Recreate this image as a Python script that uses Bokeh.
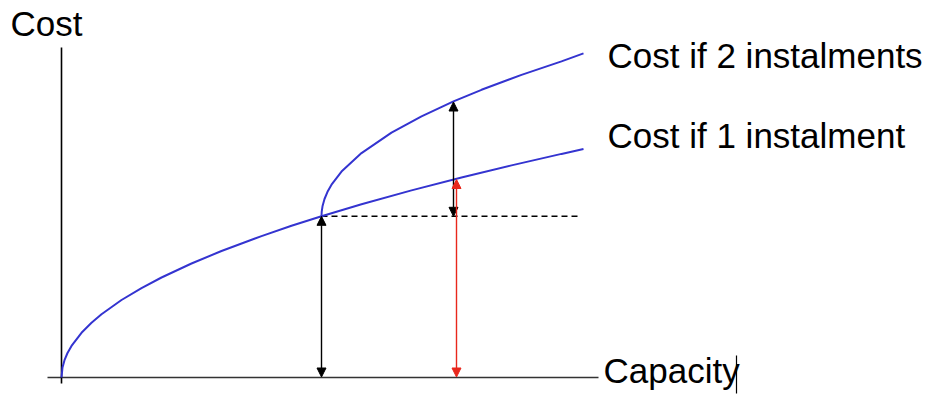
from bokeh.plotting import figure
from bokeh.models import Range1d, Arrow, NormalHead
from bokeh.core.properties import value
from bokeh.embed import file_html
from bokeh.resources import INLINE

# Data (arbitrary units)
capacity_1 = [0, 0.1, 0.3, 0.6, 1, 2, 3, 4, 6, 8, 10, 13, 16, 20, 23, 26, 30, 35, 40, 45, 50, 52.2]
cost_1 = [0, 1.0, 1.73, 2.45, 3.16, 4.47, 5.48, 6.32, 7.75, 8.94, 10.0, 11.40, 12.65, 14.14,
          15.17, 16.12, 17.32, 18.71, 20.0, 21.21, 22.36, 22.85]
capacity_2 = [26, 26.02, 26.1, 26.3, 26.6, 27, 28, 30, 33, 36, 39.2, 42, 46, 50, 52.2]
cost_2 = [16.12, 16.57, 17.12, 17.85, 18.57, 19.28, 20.59, 22.44, 24.49, 26.12, 27.61,
          28.77, 30.26, 31.61, 32.41]

switch_capacity = 26.0
switch_cost = 16.12
dash_end = 51.7
probe_capacity_black = 39.2
probe_capacity_red = 39.5
probe_cost_2 = 27.55
probe_cost_1 = 19.8

axis_x_extent = [-1.4, 53.7]
axis_y_extent = [-0.6, 33.0]

labels = ["Cost if 2 instalments", "Cost if 1 instalment"]
label_x = [54.6, 54.6]
label_y = [32.2, 24.2]

p = figure(width=932, height=395, output_backend="svg", toolbar_location=None,
           x_range=Range1d(-6.1, 87.1), y_range=Range1d(-1.8, 37.7),
           min_border=0, outline_line_color=None)
p.axis.visible = False
p.grid.visible = False
p.background_fill_color = "white"
p.border_fill_color = "white"

# axes
p.line(axis_x_extent, [0, 0], line_color="#333333", line_width=1.6)
p.line([0, 0], axis_y_extent, line_color="black", line_width=1.6)

# dashed reference
p.line([switch_capacity, dash_end], [switch_cost, switch_cost], line_color="black",
       line_width=1.4, line_dash="6 4")

# curves
p.line(capacity_1, cost_1, line_color="#3434d0", line_width=2)
p.line(capacity_2, cost_2, line_color="#3434d0", line_width=2)

def head(c):
    return NormalHead(size=9, fill_color=c, line_color=c, line_width=1)

p.add_layout(Arrow(x_start=switch_capacity, y_start=0.05, x_end=switch_capacity, y_end=switch_cost,
                   start=head("black"), end=head("black"), line_color="black", line_width=1.4))
p.add_layout(Arrow(x_start=probe_capacity_black, y_start=switch_cost, x_end=probe_capacity_black,
                   y_end=probe_cost_2, start=head("black"), end=head("black"),
                   line_color="black", line_width=1.4))
p.add_layout(Arrow(x_start=probe_capacity_red, y_start=0.05, x_end=probe_capacity_red,
                   y_end=probe_cost_1, start=head("#e8271c"), end=head("#e8271c"),
                   line_color="#e8271c", line_width=1.4))

font = value("Liberation Sans")
p.text(x=label_x, y=label_y, text=labels, text_font=font, text_font_size="35px",
       text_color="black", text_baseline="alphabetic", text_align="left")
p.text(x=[-5.1], y=[35.4], text=["Cost"], text_font=font, text_font_size="35px",
       text_color="black", text_baseline="alphabetic", text_align="left")
p.text(x=[54.2], y=[0.7], text=["Capacity"], text_font=font, text_font_size="35px",
       text_color="black", text_baseline="alphabetic", text_align="left")
# text cursor mark
p.line([67.5, 67.5], [2.2, -1.6], line_color="black", line_width=1.2)

open("out.html", "w").write(file_html(p, INLINE))
